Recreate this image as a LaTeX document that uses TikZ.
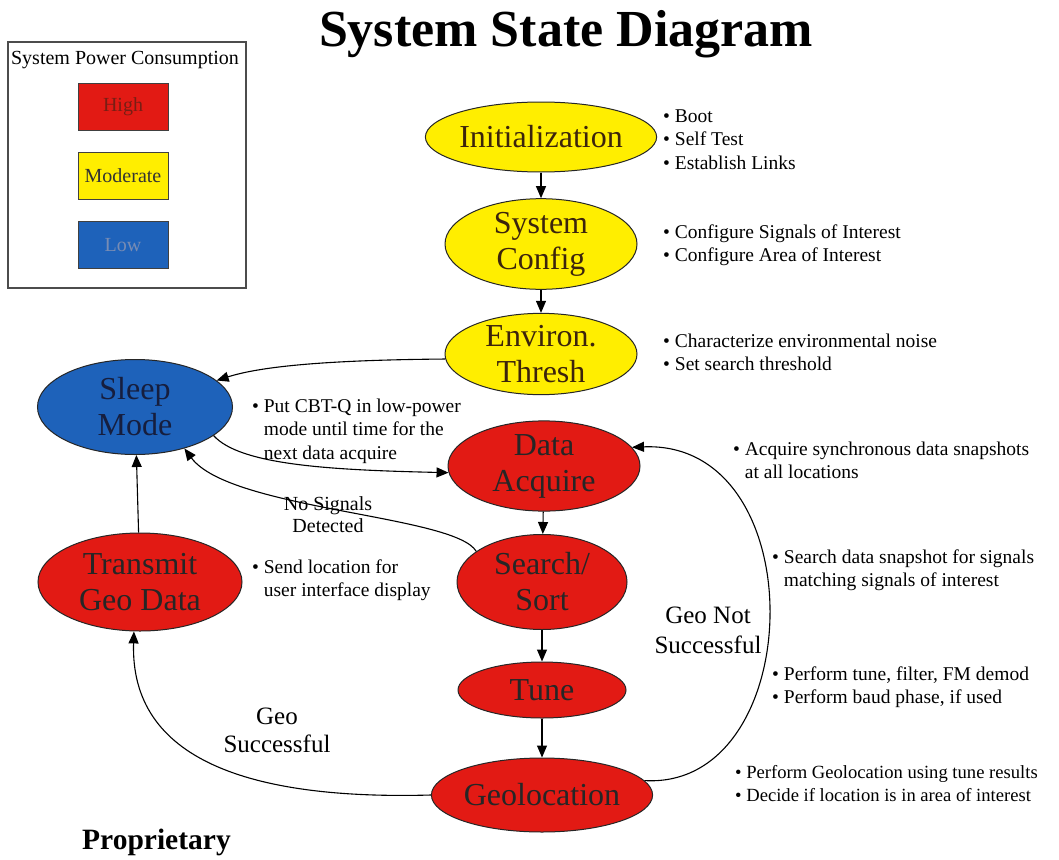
\documentclass[tikz,border=0pt]{standalone}
\usepackage{fontspec}
\setmainfont{Liberation Serif}
\usetikzlibrary{shapes.geometric,arrows.meta}

\definecolor{hotred}{RGB}{226,26,20}
\definecolor{midyellow}{RGB}{255,238,0}
\definecolor{coolblue}{RGB}{30,98,186}
\definecolor{inkbrown}{RGB}{60,36,12}
\definecolor{inknavy}{RGB}{22,30,62}
\definecolor{highink}{RGB}{120,30,20}
\definecolor{lowink}{RGB}{120,140,180}

% multi-line text whose baseline is the first line
\newcommand{\toplines}[1]{\begin{tabular}[t]{@{}l@{}}#1\end{tabular}}
\newcommand{\midlines}[1]{\begin{tabular}[t]{@{}c@{}}#1\end{tabular}}
\newcommand{\hangin}{\phantom{\textbullet\ }}

\begin{document}
\begin{tikzpicture}[x=1pt,y=-1pt,
  state/.style={ellipse, draw=black!85, line width=1pt, inner sep=0pt,
    align=center, font=\fontsize{32}{36}\selectfont},
  highstate/.style={state, fill=hotred, text=black!85},
  modstate/.style={state, fill=midyellow, text=inkbrown},
  lowstate/.style={state, fill=coolblue, text=inknavy},
  flow/.style={-{Triangle[length=12pt,width=10pt]}, line width=1.1pt, black},
  note/.style={anchor=base west, inner sep=0pt, font=\fontsize{19.5}{23.5}\selectfont},
  edgelabel/.style={anchor=base, inner sep=0pt},
  keybox/.style={rectangle, draw=black!75, line width=1pt, minimum width=90,
    minimum height=47, inner sep=0pt, font=\fontsize{20}{24}\selectfont}
]
\useasboundingbox[fill=white] (0,0) rectangle (1059,859);

% title and footer
\node[anchor=base, inner sep=0pt, font=\fontsize{52}{60}\selectfont\bfseries] (title) at (566,47) {System State Diagram};
\node[anchor=base west, inner sep=0pt, font=\fontsize{29.5}{32}\selectfont\bfseries] (prop) at (82,849) {Proprietary};

% power consumption key
\node[rectangle, draw=black!70, line width=1.2pt, minimum width=238, minimum height=246, inner sep=0pt] (legend) at (127,165) {};
\node[anchor=base, inner sep=0pt, font=\fontsize{20}{24}\selectfont] (legendtitle) at (125,64) {System Power Consumption};
\node[keybox, fill=hotred, text=highink] (keyhigh) at (123,107) {High};
\node[keybox, fill=midyellow, text=black!80] (keymod) at (123,176) {Moderate};
\node[keybox, fill=coolblue, text=lowink] (keylow) at (123,245) {Low};

% states
\node[modstate, minimum width=192, minimum height=70] (init) at (541,137) {Initialization};
\node[modstate, minimum width=192, minimum height=80] (cfg) at (541,244) {System\\Config};
\node[modstate, minimum width=192, minimum height=76] (env) at (541,354) {Environ.\\Thresh};
\node[lowstate, minimum width=195, minimum height=95] (sleep) at (135,407) {Sleep\\Mode};
\node[highstate, minimum width=192, minimum height=73] (acq) at (544,466) {Data\\Acquire};
\node[highstate, minimum width=170, minimum height=95] (search) at (542,582) {Search/\\Sort};
\node[highstate, minimum width=204, minimum height=98] (tx) at (140,582) {Transmit\\Geo Data};
\node[highstate, minimum width=168, minimum height=56] (tune) at (542,690) {Tune};
\node[highstate, minimum width=200, minimum height=74] (geo) at (542,795) {Geolocation};

% state descriptions
\node[note] (ninit) at (663,122) {\toplines{\textbullet\ Boot\\ \textbullet\ Self Test\\ \textbullet\ Establish Links}};
\node[note] (ncfg) at (663,238) {\toplines{\textbullet\ Configure Signals of Interest\\ \textbullet\ Configure Area of Interest}};
\node[note] (nenv) at (663,347) {\toplines{\textbullet\ Characterize environmental noise\\ \textbullet\ Set search threshold}};
\node[note] (nsleep) at (252,412) {\toplines{\textbullet\ Put CBT-Q in low-power\\ \hangin mode until time for the\\ \hangin next data acquire}};
\node[note] (ntx) at (252,573) {\toplines{\textbullet\ Send location for\\ \hangin user interface display}};
\node[note] (nacq) at (733,455) {\toplines{\textbullet\ Acquire synchronous data snapshots\\ \hangin at all locations}};
\node[note] (nsearch) at (772,563) {\toplines{\textbullet\ Search data snapshot for signals\\ \hangin matching signals of interest}};
\node[note] (ntune) at (772,680) {\toplines{\textbullet\ Perform tune, filter, FM demod\\ \textbullet\ Perform baud phase, if used}};
\node[note, font=\fontsize{18.6}{23.5}\selectfont] (ngeo) at (735,778) {\toplines{\textbullet\ Perform Geolocation using tune results\\ \textbullet\ Decide if location is in area of interest}};

% transitions
\draw[flow] (init) -- (cfg);
\draw[flow] (cfg) -- (env);
\draw[flow] (env.183) .. controls (330,360) and (262,366) .. (sleep.18);
\draw[flow] (sleep.-20) .. controls (240,465) and (330,470) .. (acq.184);
\draw[flow] (acq) -- (search);
\draw[flow] (search.155) .. controls (455,515) and (230,510) .. (sleep.-40);
\draw[flow] (tx) -- (sleep);
\draw[flow] (search) -- (tune);
\draw[flow] (tune) -- (geo);
\draw[flow] (geo.180) .. controls (250,800) and (130,760) .. (tx.-97);
\draw[flow] (geo.8) .. controls (808,790) and (816,440) .. (acq.12);

% transition labels
\node[edgelabel, font=\fontsize{20}{22}\selectfont] (lnosig) at (328,510) {\midlines{No Signals\\Detected}};
\node[edgelabel, font=\fontsize{25}{30}\selectfont] (lgeonot) at (708,623) {\midlines{Geo Not\\Successful}};
\node[edgelabel, font=\fontsize{25}{28}\selectfont] (lgeook) at (277,724) {\midlines{Geo\\Successful}};
\end{tikzpicture}
\end{document}
